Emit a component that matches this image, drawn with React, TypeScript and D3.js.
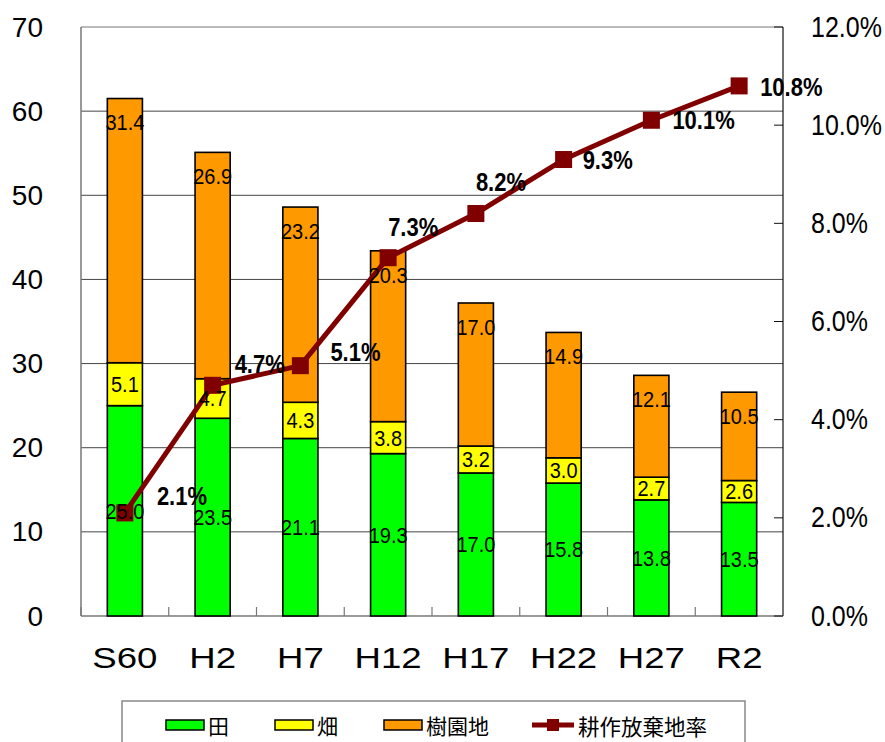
import React from "react";
import * as d3 from "d3";

const categories = ["S60", "H2", "H7", "H12", "H17", "H22", "H27", "R2"];
const paddy = [25.0, 23.5, 21.1, 19.3, 17.0, 15.8, 13.8, 13.5];
const upland = [5.1, 4.7, 4.3, 3.8, 3.2, 3.0, 2.7, 2.6];
const orchard = [31.4, 26.9, 23.2, 20.3, 17.0, 14.9, 12.1, 10.5];
const abandonRate = [2.1, 4.7, 5.1, 7.3, 8.2, 9.3, 10.1, 10.8];
const leftTicks = [0, 10, 20, 30, 40, 50, 60, 70];
const rightTicks = [0, 2, 4, 6, 8, 10, 12];
const seriesNames = ["田", "畑", "樹園地"];
const lineName = "耕作放棄地率";

// layout: label offsets of the rate labels (start x, center y) relative to marker
const rateLabelOffsets: [number, number][] = [
  [32, -16], [22, -21], [30, -13], [0, -30], [0, -31], [19, 1], [21, 0], [21, 2],
];

const W = 885;
const H = 742;
const left = 81, right = 783, top = 27, bottom = 616;
const colors = ["#00ff00", "#ffff00", "#ff9900"];
const lineColor = "#800000";
const numFont = "'Liberation Sans', Arial, sans-serif";
const cjkFont = "'Noto Sans CJK JP', sans-serif";

export default function App() {
  const x = d3.scaleBand<string>().domain(categories).range([left, right]).paddingInner(0.6).paddingOuter(0.3);
  const yL = d3.scaleLinear().domain([0, 70]).range([bottom, top]);
  const yR = d3.scaleLinear().domain([0, 12]).range([bottom, top]);
  const rows = categories.map((c, i) => ({ cat: c, a: paddy[i], b: upland[i], c2: orchard[i] }));
  const stack = d3.stack<any>().keys(["a", "b", "c2"])(rows);
  const cx = (c: string) => (x(c) as number) + x.bandwidth() / 2;
  const step = x.step();
  const line = d3.line<number>().x((_, i) => cx(categories[i])).y((d) => yR(d));

  return (
    <svg width={W} height={H} style={{ position: "fixed", left: 0, top: 0, background: "#fff" }}>
      <rect x={0} y={0} width={W} height={H} fill="#fff" />
      {/* gridlines */}
      {leftTicks.filter((t) => t > 0 && t < 70).map((t) => (
        <line key={t} x1={left} x2={right} y1={yL(t)} y2={yL(t)} stroke="#444" strokeWidth={1} />
      ))}
      {/* frame */}
      <line x1={left} x2={right} y1={top} y2={top} stroke="#777" strokeWidth={1.2} />
      <line x1={left} x2={left} y1={top} y2={bottom} stroke="#777" strokeWidth={1.5} />
      <line x1={right} x2={right} y1={top} y2={bottom} stroke="#111" strokeWidth={1.2} />
      <line x1={left} x2={right} y1={bottom} y2={bottom} stroke="#777" strokeWidth={1.5} />
      {/* x ticks */}
      {d3.range(categories.length + 1).map((i) => (
        <line key={i} x1={left + i * step} x2={left + i * step} y1={bottom - 9} y2={bottom} stroke="#777" strokeWidth={1.2} />
      ))}
      {/* right ticks */}
      {rightTicks.map((t) => (
        <line key={t} x1={right - 9} x2={right} y1={yR(t)} y2={yR(t)} stroke="#111" strokeWidth={1} />
      ))}
      {/* bars */}
      {stack.map((s, si) =>
        s.map((d, i) => (
          <rect
            key={si + "-" + i}
            x={x(categories[i])}
            y={yL(d[1])}
            width={x.bandwidth()}
            height={yL(d[0]) - yL(d[1])}
            fill={colors[si]}
            stroke="#000"
            strokeWidth={1.6}
          />
        ))
      )}
      {/* line */}
      <path d={line(abandonRate) || ""} fill="none" stroke={lineColor} strokeWidth={5} strokeLinejoin="round" />
      {abandonRate.map((v, i) => (
        <rect key={i} x={cx(categories[i]) - 8.5} y={yR(v) - 8.5} width={17} height={17} fill={lineColor} />
      ))}
      {/* bar labels */}
      {stack.map((s, si) =>
        s.map((d, i) => {
          const val = [paddy, upland, orchard][si][i];
          const yy = si === 2 ? yL(d[1]) + 24 : (yL(d[0]) + yL(d[1])) / 2;
          return (
            <g key={"l" + si + "-" + i} transform={`translate(${cx(categories[i])},${yy}) scale(1,1.12)`}>
              <text
                x={0}
                y={0}
                textAnchor="middle"
                dominantBaseline="central"
                fontFamily={numFont}
                fontSize={20}
                fill="#000"
              >
                {val.toFixed(1)}
              </text>
            </g>
          );
        })
      )}
      {/* rate labels */}
      {abandonRate.map((v, i) => (
        <g
          key={"r" + i}
          transform={`translate(${cx(categories[i]) + rateLabelOffsets[i][0]},${yR(v) + rateLabelOffsets[i][1]}) scale(1,1.15)`}
        >
          <text x={0} y={0} dominantBaseline="central" fontFamily={numFont} fontWeight="bold" fontSize={22} fill="#000">
            {v.toFixed(1) + "%"}
          </text>
        </g>
      ))}
      {/* left axis labels */}
      {leftTicks.map((t) => (
        <text key={"yl" + t} x={43} y={yL(t)} textAnchor="end" dominantBaseline="central" fontFamily={numFont} fontSize={28} fill="#000">
          {t}
        </text>
      ))}
      {/* right axis labels */}
      {rightTicks.map((t) => (
        <g key={"yr" + t} transform={`translate(811,${yR(t)}) scale(1,1.15)`}>
          <text x={0} y={0} dominantBaseline="central" fontFamily={numFont} fontSize={25} fill="#000">
            {t.toFixed(1) + "%"}
          </text>
        </g>
      ))}
      {/* x labels */}
      {categories.map((c) => (
        <g key={"x" + c} transform={`translate(${cx(c)},668) scale(1.22,1)`}>
          <text x={0} y={0} textAnchor="middle" fontFamily={numFont} fontSize={30} fill="#000">
            {c}
          </text>
        </g>
      ))}
      {/* legend */}
      <rect x={122} y={701} width={623} height={60} fill="#fff" stroke="#888" strokeWidth={1.5} />
      {[166, 275, 384].map((lx, i) => (
        <g key={"lg" + i}>
          <rect x={lx} y={720} width={38} height={10} fill={colors[i]} stroke="#000" strokeWidth={1.5} />
          <text x={lx + 42} y={725} dominantBaseline="central" fontFamily={cjkFont} fontSize={21} fill="#000">
            {seriesNames[i]}
          </text>
        </g>
      ))}
      <line x1={532} x2={574} y1={725} y2={725} stroke={lineColor} strokeWidth={5} />
      <rect x={547} y={719} width={12} height={12} fill={lineColor} />
      <text x={578} y={725} dominantBaseline="central" fontFamily={cjkFont} fontSize={21.5} fill="#000">
        {lineName}
      </text>
    </svg>
  );
}
